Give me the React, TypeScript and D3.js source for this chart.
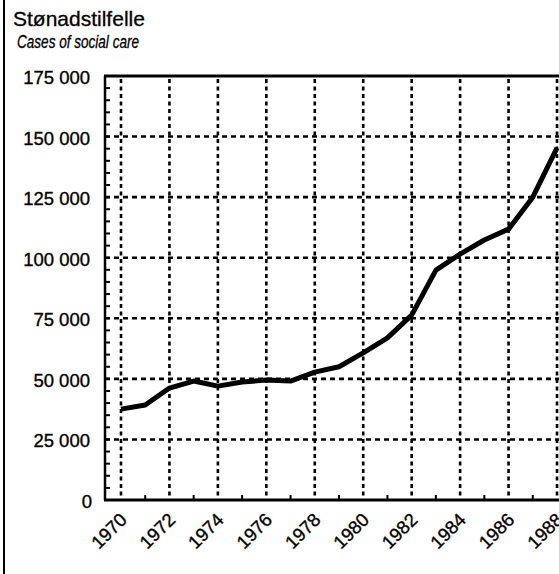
import React from "react";
import * as d3 from "d3";

const years = [1970, 1971, 1972, 1973, 1974, 1975, 1976, 1977, 1978, 1979, 1980, 1981, 1982, 1983, 1984, 1985, 1986, 1987, 1988];
const cases = [37500, 39200, 46200, 49100, 47000, 48700, 49500, 49100, 52800, 55000, 60700, 66900, 76300, 94900, 101500, 107300, 111800, 125000, 145300];
const yTicks = [0, 25000, 50000, 75000, 100000, 125000, 150000, 175000];
const xTickYears = [1970, 1972, 1974, 1976, 1978, 1980, 1982, 1984, 1986, 1988];
const title = "Stønadstilfelle";
const subtitle = "Cases of social care";

const W = 559;
const H = 574;
const left = 105;
const right = 559;
const top = 76;
const bottom = 500;

export default function App() {
  const x = d3.scaleLinear().domain([1970, 1988]).range([121, 557]);
  const y = d3.scaleLinear().domain([0, 175000]).range([bottom, top]);
  const line = d3.line<number>().x((_, i) => x(years[i])).y((d) => y(d)).curve(d3.curveLinear);
  const fmt = (v: number) => (v === 0 ? "0" : d3.format(",")(v).replace(/,/g, " "));
  const minorY = d3.range(0, 175001, 5000);
  const minorX = d3.range(1971, 1988, 2);
  const font = "'Liberation Sans', Arial, Helvetica, sans-serif";

  return (
    <svg width={W} height={H} style={{ position: "absolute", left: 0, top: 0, background: "#fff" }} fontFamily={font}>
      <rect x={0} y={0} width={W} height={H} fill="#fff" />
      <line x1={4} x2={4} y1={0} y2={H} stroke="#000" strokeWidth={2} />
      <text x={13} y={26} fontSize={21} fill="#000" stroke="#000" strokeWidth={0.3}>{title}</text>
      <text x={17} y={48} fontSize={17.5} fontStyle="italic" textLength={122} lengthAdjust="spacingAndGlyphs" fill="#000" stroke="#000" strokeWidth={0.3}>{subtitle}</text>

      {/* horizontal grid */}
      {yTicks.filter((t) => t > 0 && t < 175000).map((t) => (
        <line key={"h" + t} x1={left} x2={right} y1={y(t)} y2={y(t)} stroke="#000" strokeWidth={2.6} strokeDasharray="5,4" />
      ))}
      {/* vertical grid */}
      {xTickYears.map((yr) => (
        <line key={"v" + yr} x1={x(yr)} x2={x(yr)} y1={top + 3} y2={bottom} stroke="#000" strokeWidth={2.6} strokeDasharray="4,3.5" />
      ))}

      {/* axes */}
      <line x1={left} x2={left} y1={top} y2={bottom} stroke="#000" strokeWidth={2.5} />
      <line x1={left - 1} x2={right} y1={bottom} y2={bottom} stroke="#000" strokeWidth={3} />
      <line x1={left - 1} x2={right} y1={top} y2={top} stroke="#000" strokeWidth={3} />
      {minorY.map((t) => (
        <line key={"my" + t} x1={left} x2={left + 5} y1={y(t)} y2={y(t)} stroke="#000" strokeWidth={2} />
      ))}
      {minorX.map((yr) => (
        <line key={"mx" + yr} x1={x(yr)} x2={x(yr)} y1={bottom} y2={bottom - 5} stroke="#000" strokeWidth={2} />
      ))}

      {/* y labels */}
      {yTicks.map((t) => (
        <text key={"yl" + t} x={t === 0 ? 92 : 90} y={y(t)} dy="0.43em" textAnchor="end" fontSize={18.5} fill="#000" stroke="#000" strokeWidth={0.35}>
          {fmt(t)}
        </text>
      ))}

      {/* x labels */}
      {xTickYears.map((yr) => (
        <text key={"xl" + yr} transform={`translate(${x(yr) + 7},${bottom + 21}) rotate(-45)`} textAnchor="end" fontSize={18.5} fill="#000" stroke="#000" strokeWidth={0.35}>
          {yr}
        </text>
      ))}

      <path d={line(cases) || ""} fill="none" stroke="#000" strokeWidth={5} strokeLinejoin="round" />
    </svg>
  );
}
